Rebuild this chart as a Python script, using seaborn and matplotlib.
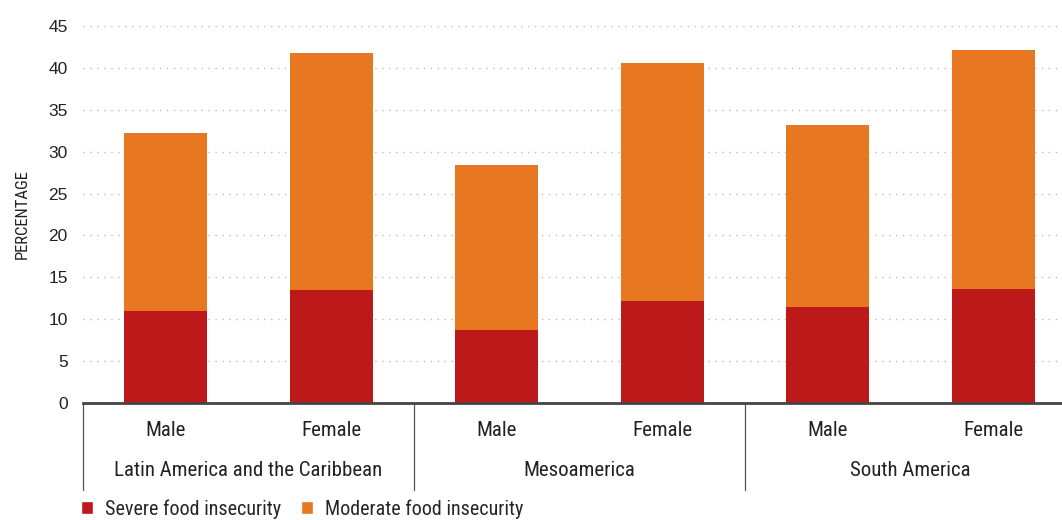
import numpy as np
import pandas as pd
import matplotlib
matplotlib.use("Agg")
import matplotlib.pyplot as plt
import matplotlib.transforms as mtransforms
from matplotlib.patches import Patch
from matplotlib import font_manager
import seaborn as sns


REGIONS = ['Latin America and the Caribbean', 'Mesoamerica', 'South America']
SEXES = ['Male', 'Female']
SEVERE = [11.0, 13.5, 8.7, 12.2, 11.5, 13.6]
MODERATE_PLUS_SEVERE = [32.2, 41.8, 28.4, 40.6, 33.2, 42.1]
Y_TICKS = [0, 5, 10, 15, 20, 25, 30, 35, 40, 45]

SEVERE_COLOR = '#BD181A'
MODERATE_COLOR = '#E87722'


def pick_narrow_font():
    names = {f.name for f in font_manager.fontManager.ttflist}
    for name in ['Roboto Condensed', 'Liberation Sans Narrow', 'DejaVu Sans Condensed', 'Liberation Sans']:
        if name in names:
            return name
    return 'DejaVu Sans'


NARROW = pick_narrow_font()

data = pd.DataFrame({
    'slot': [f'{r}|{s}' for r in REGIONS for s in SEXES],
    'sex': [s for r in REGIONS for s in SEXES],
    'severe': SEVERE,
    'total': MODERATE_PLUS_SEVERE,
})

sns.set_theme(style='white')
plt.rcParams['font.family'] = ['Liberation Sans', 'DejaVu Sans']

fig = plt.figure(figsize=(10.62, 5.2), dpi=100)
ax = fig.add_axes([83 / 1062, 117 / 520, 979 / 1062, 377 / 520])

sns.barplot(data=data, x='slot', y='total', color=MODERATE_COLOR, width=0.5,
            saturation=1, linewidth=0, ax=ax, zorder=3)
sns.barplot(data=data, x='slot', y='severe', color=SEVERE_COLOR, width=0.5,
            saturation=1, linewidth=0, ax=ax, zorder=3)

ax.set_xlim(-0.5, 979 / 165.5 - 0.5)
ax.set_ylim(0, 45)
ax.set_yticks(Y_TICKS)
ax.set_yticklabels([str(t) for t in Y_TICKS], fontsize=12.5, color='#222222')
ax.tick_params(axis='y', length=0, pad=11)
ax.set_xticks([])
ax.set_xlabel('')
ax.set_ylabel('PERCENTAGE', fontsize=12, family=NARROW, color='#222222', labelpad=13)

ax.grid(True, axis='y', linestyle=(0, (1, 4)), color='#BBBBBB', linewidth=1)
ax.set_axisbelow(True)
for side in ['top', 'right', 'left']:
    ax.spines[side].set_visible(False)
ax.spines['bottom'].set_color('#444444')
ax.spines['bottom'].set_linewidth(2)
ax.spines['bottom'].set_zorder(4)

trans = mtransforms.blended_transform_factory(ax.transData, ax.transAxes)
for xb in [-0.5, 1.5, 3.5]:
    ax.plot([xb, xb], [0, -87 / 377], transform=trans, color='#555555',
            linewidth=0.9, clip_on=False)

for i, sex in enumerate(data['sex']):
    ax.text(i, -28 / 377, sex, transform=trans, ha='center', va='center',
            fontsize=15, family=NARROW, color='#222222')
for g, region in enumerate(REGIONS):
    ax.text(2 * g + 0.5, -67 / 377, region, transform=trans, ha='center', va='center',
            fontsize=15, family=NARROW, color='#222222')

handles = [Patch(facecolor=SEVERE_COLOR, label='Severe food insecurity'),
           Patch(facecolor=MODERATE_COLOR, label='Moderate food insecurity')]
fig.legend(handles=handles, loc='lower left', bbox_to_anchor=(63 / 1062, -17 / 520), ncol=2,
           frameon=False, handlelength=0.6, handleheight=0.6, handletextpad=0.6,
           columnspacing=0.95, prop={'family': NARROW, 'size': 14.5})

fig.savefig('out.png', dpi=100)
